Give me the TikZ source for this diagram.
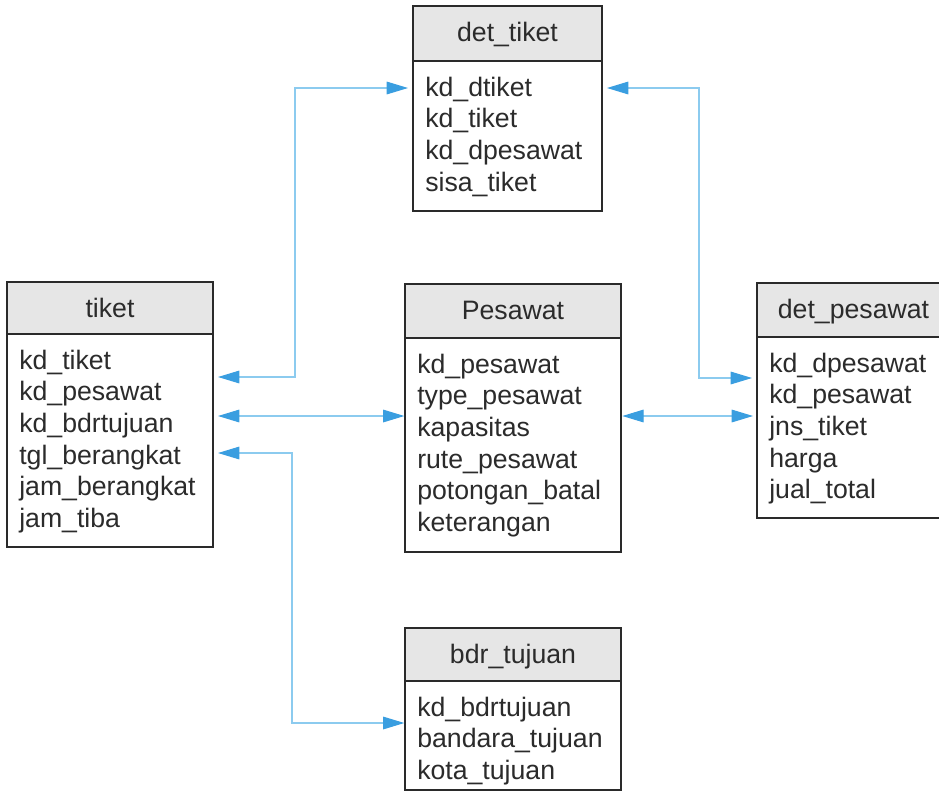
\documentclass[tikz,border=0pt]{standalone}
\usepackage{fontspec}
\setmainfont{Liberation Sans}
\usetikzlibrary{arrows.meta}
\definecolor{boxline}{HTML}{2A2A2A}
\definecolor{hdrgray}{HTML}{E6E6E6}
\definecolor{txt}{HTML}{2B2B2B}
\definecolor{linkblue}{HTML}{8CCBEF}
\definecolor{tipblue}{HTML}{3A9EE0}
\newcommand{\erfont}{\fontsize{20}{24}\selectfont}
\tikzset{
  tbl/.style={draw=boxline, line width=1.1pt, fill=white, inner sep=0pt, outer sep=0pt, anchor=north west},
  hdr/.style={draw=boxline, line width=1.1pt, fill=hdrgray, inner sep=0pt, outer sep=0pt, anchor=north west},
  ttl/.style={font=\erfont, text=txt, anchor=base, inner sep=0pt},
  rowtxt/.style={font=\erfont, text=txt, anchor=base west, inner sep=0pt},
  tipA/.tip={Triangle[length=16pt,width=9.5pt,color=tipblue]},
  rel/.style={draw=linkblue, line width=0.8pt, tipA-tipA}
}
% #1 name, #2 x1, #3 y1, #4 y header bottom, #5 x2, #6 y2, #7 title, #8 rows
\newcommand{\ertable}[8]{%
  \node[tbl, minimum width={(#5-#2)*0.75pt}, minimum height={(#6-#3)*0.75pt}] (#1) at (#2,#3) {};
  \node[hdr, minimum width={(#5-#2)*0.75pt}, minimum height={(#4-#3)*0.75pt}] (#1-head) at (#2,#3) {};
  \node[ttl] (#1-title) at ({(#2+#5)/2},{#3+35}) {#7};
  \foreach \r [count=\i] in {#8} {
    \node[rowtxt] (#1-r\i) at ({#2+12},{#4+35+(\i-1)*31.7}) {\r};
  }%
}
\begin{document}
\begin{tikzpicture}[x=0.75pt,y=-0.75pt]
\useasboundingbox (0,0) rectangle (939,801);
\clip (0,0) rectangle (939,801);

\ertable{dtiket}{413}{6}{61}{602}{211}{det\_tiket}{kd\_dtiket,kd\_tiket,kd\_dpesawat,sisa\_tiket}
\ertable{tiket}{7}{282}{334}{213}{547}{tiket}{kd\_tiket,kd\_pesawat,kd\_bdrtujuan,tgl\_berangkat,jam\_berangkat,jam\_tiba}
\ertable{pesawat}{405}{284}{338}{621}{552}{Pesawat}{kd\_pesawat,type\_pesawat,kapasitas,rute\_pesawat,potongan\_batal,keterangan}
\ertable{dpesawat}{757}{283}{337}{950}{518}{det\_pesawat}{kd\_dpesawat,kd\_pesawat,jns\_tiket,harga,jual\_total}
\ertable{bdr}{405}{628}{681}{621}{790}{bdr\_tujuan}{kd\_bdrtujuan,bandara\_tujuan,kota\_tujuan}

% bend points and heights
\coordinate (yA) at (0,377);
\coordinate (yB) at (0,88);
\coordinate (yC) at (0,378);
\coordinate (yD) at (0,416);
\coordinate (yE) at (0,453);
\coordinate (yF) at (0,723);
\coordinate (k1) at (295,377);
\coordinate (k2) at (295,88);
\coordinate (k3) at (699,88);
\coordinate (k4) at (699,378);
\coordinate (k5) at (292,453);
\coordinate (k6) at (292,723);

\draw[rel, shorten <=3.75pt, shorten >=3.75pt] (tiket.east |- yA) -- (k1) -- (k2) -- (dtiket.west |- yB);
\draw[rel, shorten <=3.75pt, shorten >=3.75pt] (dtiket.east |- yB) -- (k3) -- (k4) -- (dpesawat.west |- yC);
\draw[rel, shorten <=3.75pt, shorten >=0.5pt] (tiket.east |- yD) -- (pesawat.west |- yD);
\draw[rel, shorten <=1pt, shorten >=3pt] (pesawat.east |- yD) -- (dpesawat.west |- yD);
\draw[rel, shorten <=3.75pt, shorten >=0.5pt] (tiket.east |- yE) -- (k5) -- (k6) -- (bdr.west |- yF);
\end{tikzpicture}
\end{document}
